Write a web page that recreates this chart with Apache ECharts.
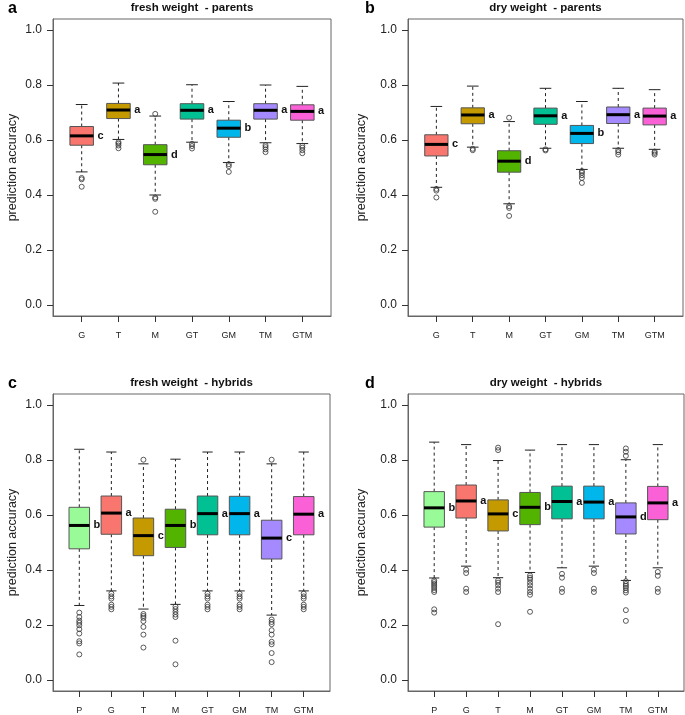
<!DOCTYPE html>
<html>
<head>
<meta charset="utf-8">
<script src="https://cdn.jsdelivr.net/npm/echarts@6/dist/echarts.min.js"></script>
<style>
html,body{margin:0;padding:0;background:#fff;}
#chart{width:685px;height:715px;}
</style>
</head>
<body>
<div id="chart"></div>
<script>
// ---------------- DATA ----------------
const catsParents = ['G', 'T', 'M', 'GT', 'GM', 'TM', 'GTM'];
const catsHybrids = ['P', 'G', 'T', 'M', 'GT', 'GM', 'TM', 'GTM'];
const yTicks = [0, 0.2, 0.4, 0.6, 0.8, 1.0];

// box stats: [lower whisker, Q1, median, Q3, upper whisker]
const freshParentsBox = [
  [0.484, 0.581, 0.615, 0.649, 0.729],
  [0.602, 0.678, 0.709, 0.733, 0.807],
  [0.400, 0.510, 0.547, 0.583, 0.687],
  [0.592, 0.676, 0.708, 0.732, 0.801],
  [0.518, 0.610, 0.643, 0.672, 0.740],
  [0.590, 0.676, 0.708, 0.732, 0.800],
  [0.587, 0.672, 0.704, 0.728, 0.795]
];
const freshParentsOut = [
  [0.462, 0.457, 0.430],
  [0.592, 0.587, 0.580, 0.570],
  [0.695, 0.391, 0.386, 0.339],
  [0.586, 0.578, 0.569],
  [0.512, 0.505, 0.484],
  [0.581, 0.574, 0.566, 0.556],
  [0.579, 0.572, 0.563, 0.552]
];
const freshParentsLetters = ['c', 'a', 'd', 'a', 'b', 'a', 'a'];

const dryParentsBox = [
  [0.428, 0.542, 0.584, 0.619, 0.722],
  [0.574, 0.659, 0.691, 0.717, 0.796],
  [0.368, 0.483, 0.523, 0.561, 0.667],
  [0.570, 0.657, 0.688, 0.716, 0.788],
  [0.493, 0.587, 0.624, 0.653, 0.740],
  [0.570, 0.660, 0.692, 0.720, 0.788],
  [0.566, 0.655, 0.687, 0.716, 0.783]
];
const dryParentsOut = [
  [0.422, 0.416, 0.391],
  [0.568, 0.563],
  [0.681, 0.359, 0.353, 0.324],
  [0.566, 0.562],
  [0.487, 0.481, 0.472, 0.462, 0.444],
  [0.563, 0.556, 0.547],
  [0.558, 0.553, 0.547]
];
const dryParentsLetters = ['c', 'a', 'd', 'a', 'b', 'a', 'a'];

const freshHybridsBox = [
  [0.271, 0.477, 0.562, 0.628, 0.839],
  [0.324, 0.530, 0.607, 0.669, 0.829],
  [0.258, 0.452, 0.525, 0.589, 0.786],
  [0.275, 0.482, 0.562, 0.621, 0.803],
  [0.324, 0.528, 0.605, 0.669, 0.829],
  [0.324, 0.528, 0.605, 0.668, 0.829],
  [0.236, 0.440, 0.516, 0.581, 0.786],
  [0.324, 0.528, 0.603, 0.667, 0.829]
];
const freshHybridsOut = [
  [0.245, 0.229, 0.216, 0.208, 0.199, 0.185, 0.169, 0.141, 0.133, 0.093],
  [0.314, 0.304, 0.296, 0.274, 0.266, 0.257],
  [0.801, 0.240, 0.233, 0.226, 0.214, 0.193, 0.165, 0.118],
  [0.267, 0.258, 0.248, 0.238, 0.229, 0.143, 0.057],
  [0.314, 0.304, 0.296, 0.274, 0.266, 0.257],
  [0.314, 0.304, 0.296, 0.274, 0.266, 0.257],
  [0.801, 0.220, 0.211, 0.203, 0.181, 0.165, 0.139, 0.130, 0.098, 0.065],
  [0.314, 0.304, 0.296, 0.274, 0.266, 0.257]
];
const freshHybridsLetters = ['b', 'a', 'c', 'b', 'a', 'a', 'c', 'a'];

const dryHybridsBox = [
  [0.371, 0.556, 0.626, 0.685, 0.865],
  [0.414, 0.589, 0.651, 0.709, 0.856],
  [0.372, 0.542, 0.604, 0.655, 0.798],
  [0.391, 0.565, 0.628, 0.682, 0.836],
  [0.408, 0.586, 0.649, 0.705, 0.856],
  [0.414, 0.586, 0.647, 0.705, 0.856],
  [0.362, 0.531, 0.593, 0.644, 0.801],
  [0.408, 0.583, 0.644, 0.704, 0.856]
];
const dryHybridsOut = [
  [0.362, 0.356, 0.349, 0.342, 0.335, 0.327, 0.320, 0.257, 0.245],
  [0.401, 0.389, 0.332, 0.320],
  [0.845, 0.836, 0.362, 0.354, 0.344, 0.332, 0.320, 0.203],
  [0.380, 0.372, 0.365, 0.354, 0.344, 0.332, 0.320, 0.310, 0.248],
  [0.386, 0.372, 0.332, 0.320],
  [0.401, 0.389, 0.332, 0.320],
  [0.842, 0.830, 0.815, 0.359, 0.349, 0.342, 0.335, 0.326, 0.318, 0.254, 0.215],
  [0.393, 0.379, 0.332, 0.320]
];
const dryHybridsLetters = ['b', 'a', 'c', 'b', 'a', 'a', 'd', 'a'];

const panelTitles = ['fresh weight  - parents', 'dry weight  - parents', 'fresh weight  - hybrids', 'dry weight  - hybrids'];
const panelTags = ['a', 'b', 'c', 'd'];

// ---------------- STYLE ----------------
const catColors = {
  P: '#98FB98', G: '#F8766D', T: '#C49A00', M: '#53B400',
  GT: '#00C094', GM: '#00B6EB', TM: '#A58AFF', GTM: '#FB61D7'
};
const FONT = '"Liberation Sans", Arial, Helvetica, sans-serif';

const panels = [
  { cats: catsParents, box: freshParentsBox, out: freshParentsOut, letters: freshParentsLetters,
    grid: { left: 53, top: 19, width: 278, height: 297 }, nameGap: 34 },
  { cats: catsParents, box: dryParentsBox, out: dryParentsOut, letters: dryParentsLetters,
    grid: { left: 408, top: 19, width: 275, height: 297 }, nameGap: 40 },
  { cats: catsHybrids, box: freshHybridsBox, out: freshHybridsOut, letters: freshHybridsLetters,
    grid: { left: 53, top: 394, width: 277, height: 298 }, nameGap: 34 },
  { cats: catsHybrids, box: dryHybridsBox, out: dryHybridsOut, letters: dryHybridsLetters,
    grid: { left: 408, top: 394, width: 276, height: 298 }, nameGap: 40 }
];

const grids = [], xAxes = [], yAxes = [], series = [], titles = [];

panels.forEach((p, gi) => {
  const n = p.cats.length;
  const pad = 0.5 + n * 0.04;
  const pos = p.cats.map((c, i) => i + 1);
  grids.push(Object.assign({ show: true, borderColor: '#666', borderWidth: 1, backgroundColor: 'transparent' }, p.grid));
  xAxes.push({
    type: 'value', gridIndex: gi, min: 1 - pad, max: n + pad, position: 'bottom',
    splitLine: { show: false },
    axisLine: { show: true, onZero: false, lineStyle: { color: '#666', width: 1 } },
    axisTick: { show: true, inside: false, customValues: pos, length: 6, lineStyle: { color: '#333', width: 1 } },
    axisLabel: { show: true, customValues: pos, margin: 15, fontSize: 9, color: '#222', fontFamily: FONT,
      formatter: v => p.cats[Math.round(v) - 1] || '' }
  });
  yAxes.push({
    type: 'value', gridIndex: gi, min: -0.04, max: 1.04, position: 'left',
    name: 'prediction accuracy', nameLocation: 'middle', nameGap: p.nameGap,
    nameTextStyle: { fontSize: 12.5, color: '#222', fontFamily: FONT },
    splitLine: { show: false },
    axisLine: { show: true, onZero: false, lineStyle: { color: '#666', width: 1 } },
    axisTick: { show: true, inside: false, customValues: yTicks, length: 6, lineStyle: { color: '#333', width: 1 } },
    axisLabel: { show: true, customValues: yTicks, margin: 11, fontSize: 12, color: '#222', fontFamily: FONT,
      formatter: v => v.toFixed(1) }
  });

  const boxData = p.box.map((b, i) => [i + 1].concat(b));
  const cats = p.cats, letters = p.letters;
  series.push({
    type: 'custom', xAxisIndex: gi, yAxisIndex: gi,
    encode: { x: 0, y: [1, 2, 3, 4, 5] },
    data: boxData,
    z: 2,
    renderItem: function (params, api) {
      const x = api.value(0);
      const lo = api.value(1), q1 = api.value(2), md = api.value(3), q3 = api.value(4), hi = api.value(5);
      const hw = 0.32, cw = 0.16;
      const cx = api.coord([x, md])[0];
      const yLo = api.coord([x, lo])[1], yQ1 = api.coord([x, q1])[1], yMd = api.coord([x, md])[1];
      const yQ3 = api.coord([x, q3])[1], yHi = api.coord([x, hi])[1];
      const l = api.coord([x - hw, md])[0], r = api.coord([x + hw, md])[0];
      const cl = api.coord([x - cw, md])[0], cr = api.coord([x + cw, md])[0];
      const idx = params.dataIndex;
      const col = catColors[cats[idx]];
      const ws = { stroke: '#222', lineWidth: 1, lineDash: [3, 3] };
      const cs = { stroke: '#222', lineWidth: 1 };
      return {
        type: 'group',
        children: [
          { type: 'line', shape: { x1: cx, y1: yQ3, x2: cx, y2: yHi }, style: ws },
          { type: 'line', shape: { x1: cx, y1: yQ1, x2: cx, y2: yLo }, style: ws },
          { type: 'line', shape: { x1: cl, y1: yHi, x2: cr, y2: yHi }, style: cs },
          { type: 'line', shape: { x1: cl, y1: yLo, x2: cr, y2: yLo }, style: cs },
          { type: 'rect', shape: { x: l, y: yQ3, width: r - l, height: yQ1 - yQ3 },
            style: { fill: col, stroke: '#555', lineWidth: 1 } },
          { type: 'line', shape: { x1: l, y1: yMd, x2: r, y2: yMd }, style: { stroke: '#000', lineWidth: 3 } },
          { type: 'text', x: r + 4, y: yMd,
            style: { text: letters[idx], fontSize: 11, fontWeight: 'bold', fill: '#111',
              align: 'left', verticalAlign: 'middle', fontFamily: FONT } }
        ]
      };
    }
  });

  const outData = [];
  p.out.forEach((arr, i) => arr.forEach(v => outData.push([i + 1, v])));
  series.push({
    type: 'scatter', xAxisIndex: gi, yAxisIndex: gi, data: outData, z: 3,
    symbol: 'circle', symbolSize: 5,
    itemStyle: { color: 'rgba(0,0,0,0)', borderColor: '#333', borderWidth: 1 },
    emphasis: { disabled: true }
  });

  const g = p.grid;
  titles.push({
    text: panelTitles[gi], left: g.left + g.width / 2, top: g.top - 17, textAlign: 'center', padding: 0,
    textStyle: { fontSize: 11.5, fontWeight: 'bold', color: '#111', fontFamily: FONT }
  });
  titles.push({
    text: panelTags[gi], left: gi % 2 === 0 ? 8 : 365, top: g.top - 18, padding: 0,
    textStyle: { fontSize: 16, fontWeight: 'bold', color: '#000', fontFamily: FONT }
  });
});

const chart = echarts.init(document.getElementById('chart'), null, { renderer: 'canvas' });
chart.setOption({
  animation: false,
  backgroundColor: '#fff',
  title: titles,
  grid: grids,
  xAxis: xAxes,
  yAxis: yAxes,
  series: series
});
</script>
</body>
</html>
